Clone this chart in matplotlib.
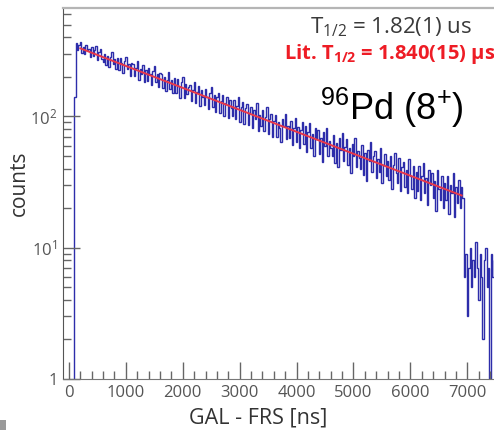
import numpy as np
import matplotlib
matplotlib.use('Agg')
import matplotlib.pyplot as plt
from matplotlib.ticker import MultipleLocator, LogLocator, NullFormatter
from matplotlib.patches import Rectangle

plt.rcParams['font.family'] = ['Open Sans', 'DejaVu Sans']
plt.rcParams['mathtext.fontset'] = 'custom'
plt.rcParams['mathtext.rm'] = 'Open Sans'

# histogram: 25 ns bins, first edge at 65 ns
bin_start = 65
bin_width = 25
counts_rise = [0, 140]
counts_decay = [
    360, 322, 348, 371, 305, 339, 300, 352, 318, 326,
    282, 336, 291, 318, 345, 268, 309, 327, 276, 262,
    301, 248, 289, 236, 283, 312, 251, 272, 229, 278,
    226, 279, 255, 214, 266, 285, 228, 251, 205, 257,
    252, 202, 234, 263, 191, 230, 211, 247, 183, 226,
    187, 235, 211, 174, 220, 241, 182, 212, 169, 215,
    210, 165, 198, 156, 190, 219, 161, 189, 151, 196,
    150, 192, 171, 139, 183, 200, 137, 176, 149, 168,
    173, 131, 160, 182, 126, 153, 170, 121, 158, 141,
    122, 162, 141, 113, 152, 168, 117, 145, 108, 140,
    150, 107, 131, 146, 101, 126, 141, 98, 133, 116,
    101, 134, 96, 121, 140, 91, 117, 129, 87, 115,
    124, 86, 106, 119, 82, 111, 95, 127, 78, 103,
    84, 111, 78, 99, 117, 73, 96, 104, 70, 93,
    103, 70, 90, 81, 64, 96, 85, 105, 67, 84,
    68, 93, 61, 81, 98, 64, 83, 57, 79, 90,
    62, 84, 54, 76, 89, 58, 73, 50, 81, 67,
    79, 52, 68, 45, 76, 60, 82, 50, 65, 57,
    50, 72, 44, 63, 41, 69, 56, 75, 46, 59,
    67, 43, 57, 37, 62, 50, 69, 41, 55, 48,
    40, 61, 36, 53, 32, 56, 46, 64, 38, 50,
    55, 34, 47, 38, 58, 31, 43, 52, 35, 46,
    33, 50, 28, 43, 53, 37, 31, 48, 27, 41,
    45, 29, 39, 26, 47, 35, 28, 42, 24, 38,
    27, 42, 23, 35, 44, 26, 34, 21, 39, 30,
    37, 24, 32, 19, 39, 28, 23, 35, 20, 31,
    23, 35, 18, 30, 26, 37, 17, 29, 22, 33,
    20, 29, 24,
]
counts_tail = [6, 9, 3, 7, 10, 5, 8, 6, 11, 7, 4, 9, 6, 2, 8, 10, 5, 7, 0, 9, 6, 8]

# exponential fit, end points (straight on log axis)
fit_t = [200, 6900]
fit_counts = [330, 25]

counts = np.array(counts_rise + counts_decay + counts_tail, dtype=float)
edges = bin_start + bin_width * np.arange(len(counts) + 1)

fig = plt.figure(figsize=(4.94, 4.30), dpi=100)
ax = fig.add_axes([63 / 494, 51 / 430, 432.75 / 494, 371 / 430])

# zero bins are dropped below the axis floor
ax.stairs(np.maximum(counts, 0.3), edges, baseline=None, color='#2d2daa', lw=1.0)
ax.plot(fit_t, fit_counts, color='#e8384a', lw=1.4)

ax.set_yscale('log')
ax.set_ylim(1, 670)
ax.set_xlim(-105, 7500)

ax.xaxis.set_major_locator(MultipleLocator(1000))
ax.xaxis.set_minor_locator(MultipleLocator(200))
ax.set_yticks([1, 10, 100])
ax.set_yticklabels(['1', r'$\mathdefault{10^{1}}$', r'$\mathdefault{10^{2}}$'])
ax.yaxis.set_minor_locator(LogLocator(base=10, subs=np.arange(2, 10)))
ax.yaxis.set_minor_formatter(NullFormatter())

ax.tick_params(which='major', direction='in', length=12, width=1, color='#666666',
               labelcolor='#555555', labelsize=12, pad=4)
ax.tick_params(which='minor', direction='in', length=6, width=1, color='#666666')

ax.spines['right'].set_visible(False)
ax.spines['left'].set_color('#555555')
ax.spines['bottom'].set_color('#777777')
ax.spines['top'].set_color('#b5b5b5')
ax.spines['top'].set_linewidth(1.6)

fig.text(472 / 494, 1 - 27.5 / 430, r'T$_{\mathdefault{1/2}}$ = 1.82(1) us',
         ha='right', va='center', fontsize=16, color='#3a3a3a')
fig.text(495 / 494, 1 - 54 / 430, r'Lit. T$_{\mathdefault{1/2}}$ = 1.840(15) µs',
         ha='right', va='center', fontsize=14.5, fontweight='bold', color='#ee1c25')
fig.text(392 / 494, 1 - 108 / 430, r'$^{\mathdefault{96}}$Pd (8$^{\mathdefault{+}}$)',
         ha='center', va='center', fontsize=26, family='Liberation Sans', color='black')

fig.text(19 / 494, 1 - 183 / 430, 'counts', rotation=90, ha='center', va='center',
         fontsize=15, color='#333333')
fig.text(258 / 494, 1 - 418 / 430, 'GAL - FRS [ns]', ha='center', va='center',
         fontsize=15.5, color='#333333')

fig.add_artist(Rectangle((0, 0), 6 / 494, 10 / 430, transform=fig.transFigure,
                         facecolor='#9a9a9a', edgecolor='none'))

fig.savefig('out.png', dpi=100)
